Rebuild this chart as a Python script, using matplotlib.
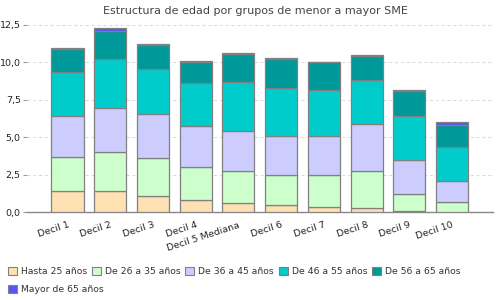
import numpy as np
import matplotlib
matplotlib.use("Agg")
import matplotlib.pyplot as plt
from matplotlib.patches import Patch

# Data
categories = ["Decil 1", "Decil 2", "Decil 3", "Decil 4", "Decil 5 Mediana",
              "Decil 6", "Decil 7", "Decil 8", "Decil 9", "Decil 10"]
series_names = ["Hasta 25 años", "De 26 a 35 años", "De 36 a 45 años",
                "De 46 a 55 años", "De 56 a 65 años", "Mayor de 65 años"]
hasta_25 = [1.40, 1.40, 1.11, 0.80, 0.60, 0.47, 0.33, 0.27, 0.08, 0.02]
de_26_35 = [2.31, 2.60, 2.53, 2.24, 2.17, 2.00, 2.14, 2.46, 1.12, 0.65]
de_36_45 = [2.73, 2.97, 2.93, 2.69, 2.67, 2.60, 2.60, 3.14, 2.27, 1.40]
de_46_55 = [2.89, 3.27, 3.00, 2.87, 3.23, 3.20, 3.06, 2.93, 2.93, 2.26]
de_56_65 = [1.57, 1.86, 1.58, 1.45, 1.86, 1.97, 1.87, 1.60, 1.67, 1.51]
mayor_65 = [0.07, 0.17, 0.10, 0.05, 0.10, 0.07, 0.02, 0.09, 0.08, 0.16]

series = [hasta_25, de_26_35, de_36_45, de_46_55, de_56_65, mayor_65]
colors = ["#FFE0B2", "#CCFFCC", "#CCCCFF", "#00CCCC", "#009999", "#5555FF"]
edge = "#808080"

fig = plt.figure(figsize=(5, 3), dpi=100)
ax = fig.add_axes([0.054, 0.2923, 0.932, 0.644])

x = np.arange(len(categories))
bottom = np.zeros(len(categories))
for vals, col in zip(series, colors):
    ax.bar(x, vals, width=0.75, bottom=bottom, color=col, edgecolor=edge,
           linewidth=0.9, zorder=3)
    bottom += np.array(vals)

ax.set_xlim(-0.948, 9.96)
ax.set_ylim(0, 12.88)
ax.set_yticks([0, 2.5, 5, 7.5, 10, 12.5])
ax.set_yticklabels(["0,0", "2,5", "5,0", "7,5", "10,0", "12,5"], fontsize=6.8, color="#222222")
ax.tick_params(axis="y", length=3, color="#999999", pad=1.5)
ax.yaxis.grid(True, linestyle=(0, (3, 3)), color="#d8d8d8", linewidth=0.7, zorder=0)

ax.set_xticks(x)
ax.set_xticklabels(categories, rotation=18, ha="right", va="top",
                   rotation_mode="anchor", fontsize=6.8, color="#222222")
ax.tick_params(axis="x", length=0, pad=6)

for side in ["top", "right", "left"]:
    ax.spines[side].set_visible(False)
ax.spines["bottom"].set_color("#888888")
ax.spines["bottom"].set_linewidth(1)

fig.text(0.51, 0.965, "Estructura de edad por grupos de menor a mayor SME",
         ha="center", va="center", fontsize=8, color="#444444")

handles = [Patch(facecolor=c, edgecolor=edge, linewidth=0.8) for c in colors]
leg1 = fig.legend(handles[:5], series_names[:5], loc="center left",
                  bbox_to_anchor=(0.008, 0.094), ncol=5, frameon=False,
                  fontsize=6.7, handlelength=1.0, handleheight=1.0,
                  handletextpad=0.4, columnspacing=0.5, borderaxespad=0,
                  labelcolor="#333333")
leg2 = fig.legend(handles[5:], series_names[5:], loc="center left",
                  bbox_to_anchor=(0.008, 0.035), frameon=False,
                  fontsize=6.7, handlelength=1.0, handleheight=1.0,
                  handletextpad=0.4, borderaxespad=0, labelcolor="#333333")

fig.savefig("out.png", dpi=100)
